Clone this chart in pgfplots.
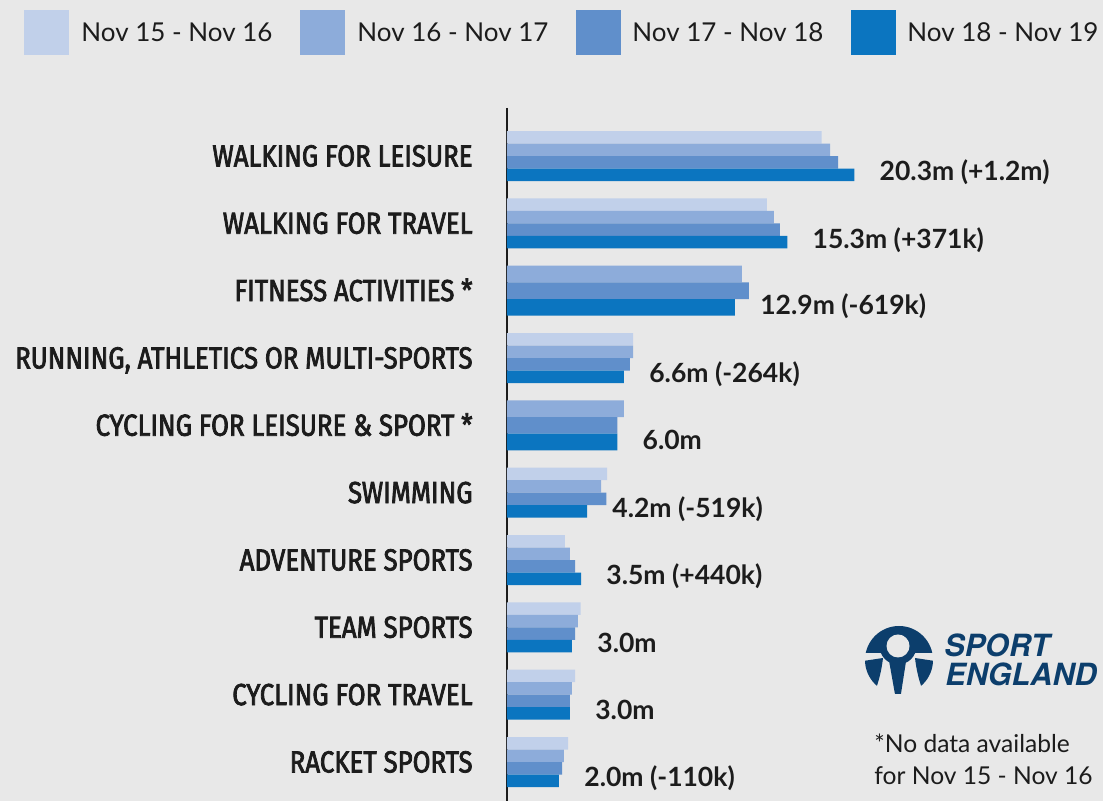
\documentclass[border=0pt]{standalone}
\usepackage{fontspec}
\setmainfont{Lato}
\newfontfamily\catfont[FakeStretch=0.85,FakeBold=2.5]{Fira Sans}
\newfontfamily\herosfont{TeX Gyre Heros}
\usepackage{pgfplots}
\pgfplotsset{compat=1.18}
\definecolor{cA}{RGB}{193,208,234}
\definecolor{cB}{RGB}{141,172,218}
\definecolor{cC}{RGB}{96,143,203}
\definecolor{cD}{RGB}{11,117,192}
\definecolor{bg}{RGB}{232,232,232}
\definecolor{txt}{RGB}{28,28,28}
\definecolor{logo}{RGB}{12,62,108}
\begin{document}
\begin{tikzpicture}
\fill[bg] (0,0) rectangle (551.5pt,400.5pt);
\begin{axis}[
 at={(253.5pt,346.5pt)}, anchor=north west,
 x=8.55pt, y=33.667pt, y dir=reverse,
 xmin=0, xmax=32, ymin=-0.713, ymax=9.58,
 hide x axis, axis y line*=left,
 y axis line style={line width=0.6pt, color=txt},
 ytick={0,1,2,3,4,5,6,7,8,9},
 yticklabels={WALKING FOR LEISURE, WALKING FOR TRAVEL, FITNESS ACTIVITIES *, {RUNNING, ATHLETICS OR MULTI-SPORTS}, CYCLING FOR LEISURE \& SPORT *, SWIMMING, ADVENTURE SPORTS, TEAM SPORTS, CYCLING FOR TRAVEL, RACKET SPORTS},
 major tick length=0pt,
 ytick style={draw=none},
 yticklabel style={font=\catfont\fontsize{15.2pt}{16pt}\selectfont, anchor=base east, inner sep=0pt, xshift=-17pt, yshift=-5.2pt, text=txt},
 clip=false,
]
% four-bar categories
\addplot[xbar, fill=cA, draw=none, bar width=6.25pt, bar shift=9.375pt] coordinates {
 (18.40,0) (15.19,1) (7.37,3) (5.85,5) (3.39,6) (4.31,7) (3.98,8) (3.57,9)};
\addplot[xbar, fill=cB, draw=none, bar width=6.25pt, bar shift=3.125pt] coordinates {
 (18.89,0) (15.61,1) (7.37,3) (5.50,5) (3.68,6) (4.15,7) (3.80,8) (3.33,9)};
\addplot[xbar, fill=cC, draw=none, bar width=6.25pt, bar shift=-3.125pt] coordinates {
 (19.36,0) (15.96,1) (7.19,3) (5.81,5) (3.98,6) (3.98,7) (3.68,8) (3.22,9)};
\addplot[xbar, fill=cD, draw=none, bar width=6.25pt, bar shift=-9.375pt,
 point meta=explicit symbolic, nodes near coords={\pgfplotspointmeta},
 nodes near coords style={anchor=base west, xshift=12.5pt, yshift=-12.4pt, inner sep=0pt, text=txt, font=\bfseries\fontsize{13.25pt}{15pt}\selectfont}] coordinates {
 (20.31,0) [20.3m (+1.2m)]
 (16.39,1) [15.3m (+371k)]
 (6.84,3) [6.6m (-264k)]
 (4.68,5) [4.2m (-519k)]
 (4.33,6) [3.5m (+440k)]
 (3.80,7) [3.0m]
 (3.68,8) [3.0m]
 (3.04,9) [2.0m (-110k)]};
% three-bar categories (no data for Nov 15 - Nov 16)
\addplot[xbar, fill=cB, draw=none, bar width=8.333pt, bar shift=8.333pt] coordinates {
 (13.74,2) (6.84,4)};
\addplot[xbar, fill=cC, draw=none, bar width=8.333pt, bar shift=0pt] coordinates {
 (14.15,2) (6.45,4)};
\addplot[xbar, fill=cD, draw=none, bar width=8.333pt, bar shift=-8.333pt,
 point meta=explicit symbolic, nodes near coords={\pgfplotspointmeta},
 nodes near coords style={anchor=base west, xshift=12.5pt, yshift=-12pt, inner sep=0pt, text=txt, font=\bfseries\fontsize{13.25pt}{15pt}\selectfont}] coordinates {
 (13.33,2) [12.9m (-619k)]
 (6.45,4) [6.0m]};
\end{axis}
\begin{scope}[x=0.5pt,y=-0.5pt,shift={(0pt,400.5pt)}]
 % legend
 \fill[cA] (24,10) rectangle (69,55);
 \fill[cB] (300,10) rectangle (345,55);
 \fill[cC] (576,10) rectangle (621,55);
 \fill[cD] (851,10) rectangle (896,55);
 \begin{scope}[every node/.style={anchor=base west, inner sep=0pt, text=txt, font=\fontsize{13pt}{15pt}\selectfont}]
 \node at (81,42) {Nov 15 - Nov 16};
 \node at (357,42) {Nov 16 - Nov 17};
 \node at (632,42) {Nov 17 - Nov 18};
 \node at (907,42) {Nov 18 - Nov 19};
 \end{scope}
 % logo
 \begin{scope}
  \clip (899,660) circle (34);
  \fill[logo] (860,620) rectangle (940,653);
  \fill[logo] (898,646) circle (18.5);
  \fill[logo] (888,655) -- (907,655) -- (900,700) -- (896,700) -- cycle;
  \fill[logo] (850,663) -- (883,658) .. controls (881,675) and (877,688) .. (871,700) -- (850,700) -- cycle;
  \fill[logo] (948,663) -- (915,658) .. controls (917,675) and (921,688) .. (927,700) -- (948,700) -- cycle;
 \end{scope}
 \fill[bg] (898,646) circle (11.5);
 \node[anchor=base west, inner sep=0pt, text=logo, font=\herosfont\bfseries\itshape\fontsize{15.3pt}{16pt}\selectfont] at (944,657) {SPORT};
 \node[anchor=base west, inner sep=0pt, text=logo, font=\herosfont\bfseries\itshape\fontsize{15.3pt}{16pt}\selectfont] at (945,686) {ENGLAND};
 % footnote
 \node[anchor=base west, inner sep=0pt, text=txt, font=\fontsize{12.3pt}{15pt}\selectfont] at (874,752.7) {*No data available};
 \node[anchor=base west, inner sep=0pt, text=txt, font=\fontsize{12.3pt}{15pt}\selectfont] at (874,785) {for Nov 15 - Nov 16};
\end{scope}
\pgfresetboundingbox
\path (0,0) rectangle (551.5pt,400.5pt);
\end{tikzpicture}
\end{document}
